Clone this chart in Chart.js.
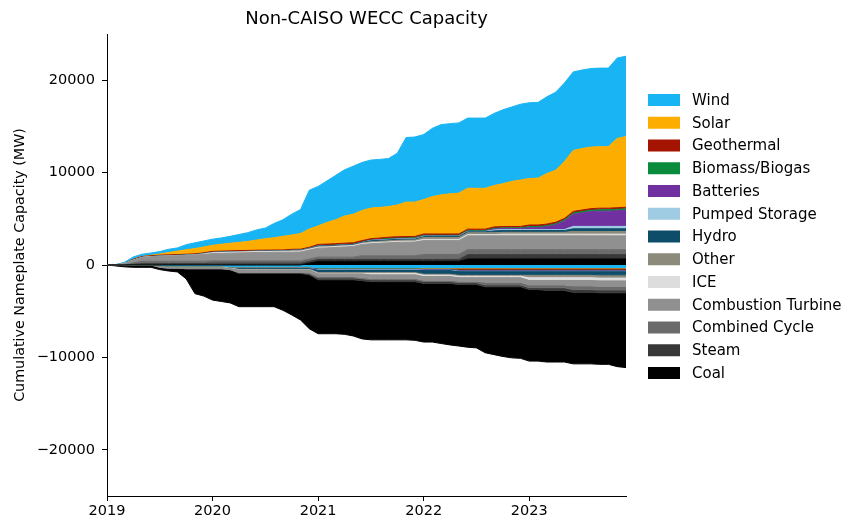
<!DOCTYPE html>
<html>
<head>
<meta charset="utf-8">
<script src="https://cdn.jsdelivr.net/npm/chart.js@4.4.0/dist/chart.umd.min.js"></script>
<style>
html, body { margin: 0; padding: 0; background: #fff; }
</style>
</head>
<body>
<canvas id="chart" width="843" height="522"></canvas>
<script>
// monthly, Jan 2019 .. Dec 2023
const months = [];
for (let i = 0; i < 60; i++) months.push(2019 + i / 12);

const xTicks = [2019, 2020, 2021, 2022, 2023];
const yTicks = [-20000, -10000, 0, 10000, 20000];

const techs = ['Coal', 'Steam', 'Combined Cycle', 'Combustion Turbine', 'ICE', 'Other', 'Hydro',
    'Pumped Storage', 'Batteries', 'Biomass/Biogas', 'Geothermal', 'Solar', 'Wind'];
const colors = ['#000000', '#383838', '#6b6b6b', '#909090', '#dddddd', '#8c8a7b', '#0d4d6a',
    '#9fcbe3', '#7030a0', '#0a8a3b', '#a51400', '#fdad00', '#18b4f4'];

///////////////////////////////// cumulative additions (MW) /////////////////////////////////
const coalAdd = [
    0,0,0,0,0,0,0,0,0,0,0,0,
    0,0,0,0,0,0,0,0,0,0,0,200,
    400,400,400,400,400,400,400,400,400,400,400,400,
    400,400,400,400,400,650,650,650,650,650,650,650,
    650,650,650,650,650,650,650,650,650,650,650,650];
const steamAdd = [
    0,0,0,80,150,150,150,150,150,150,150,150,
    200,200,200,200,200,200,200,200,200,200,200,200,
    200,200,200,200,200,200,200,200,200,200,200,200,
    200,200,200,200,200,470,470,470,470,470,470,470,
    470,470,470,470,470,470,470,470,470,470,470,470];
const ccAdd = [
    0,0,0,150,250,250,250,250,250,250,250,250,
    250,250,250,250,250,250,250,250,250,250,250,250,
    250,250,250,250,250,400,400,400,400,400,400,400,
    540,540,540,540,540,540,540,540,540,540,540,540,
    540,540,540,540,540,540,540,540,540,540,540,540];
const ctAdd = [
    0,30,150,300,420,500,540,570,600,640,680,740,
    780,800,830,860,880,900,910,920,930,940,950,960,
    970,1000,1050,1100,1150,1230,1300,1350,1400,1450,1470,1480,
    1500,1500,1500,1500,1500,1500,1500,1500,1500,1500,1500,1500,
    1500,1500,1500,1500,1500,1500,1500,1500,1500,1500,1500,1500];
const iceAdd = [
    0,0,0,0,0,0,0,0,0,0,0,50,
    100,100,100,100,100,100,100,100,100,100,100,100,
    100,100,100,100,100,100,100,100,100,100,100,100,
    130,130,130,130,130,130,130,130,130,180,180,180,
    180,180,180,180,180,180,180,180,180,180,180,180];
const otherAdd = [
    0,0,0,0,0,0,0,0,0,0,0,0,
    0,0,0,0,0,0,0,0,0,60,60,60,
    60,60,60,60,60,60,120,120,120,120,120,120,
    200,200,200,200,200,200,200,200,200,200,200,200,
    200,200,200,200,200,290,290,290,290,290,290,290];
const hydroAdd = [
    0,0,0,0,0,0,30,30,30,30,30,30,
    30,30,30,30,30,30,30,30,30,30,30,30,
    60,60,60,60,60,60,100,100,100,100,100,100,
    100,100,100,100,100,100,100,100,200,200,200,200,
    200,200,200,200,200,290,290,290,290,290,290,290];
const pumpedAdd = [
    0,0,0,0,0,0,0,0,0,0,0,0,
    0,0,0,0,0,0,0,0,0,0,0,0,
    0,0,0,0,0,0,40,40,40,40,40,40,
    40,40,40,40,40,40,40,40,100,100,100,100,
    100,100,100,100,100,260,260,260,260,260,260,260];
const battAdd = [
    0,0,0,0,0,0,0,0,0,0,0,0,
    0,0,0,0,0,0,0,0,0,0,0,0,
    0,0,0,0,0,0,0,20,20,20,20,20,
    20,20,20,20,20,20,20,20,100,100,100,100,
    200,200,300,500,900,1300,1450,1600,1650,1650,1700,1750];
const bioAdd = [
    0,0,0,20,20,20,20,20,20,20,20,20,
    20,20,20,20,20,20,20,20,20,20,20,20,
    40,40,40,40,40,40,40,40,80,80,80,80,
    80,80,80,80,80,80,80,80,80,80,80,80,
    120,120,120,120,120,150,150,150,150,150,150,150];
const geoAdd = [
    0,0,0,80,80,80,80,80,80,80,80,80,
    100,100,100,100,100,100,100,100,100,100,100,100,
    150,150,150,150,150,150,150,150,150,150,150,150,
    150,150,150,150,150,150,150,150,150,150,150,150,
    170,170,170,170,170,170,170,170,170,170,170,170];
const solarAdd = [
    0,0,0,0,0,50,120,250,370,480,570,630,
    650,750,820,890,970,1100,1240,1330,1470,1550,1690,1980,
    2000,2340,2590,2940,3090,3260,3310,3310,3310,3440,3720,3720,
    3720,4040,4240,4340,4420,4420,4420,4420,4480,4630,4880,5030,
    5030,5070,5470,5620,6170,6600,6650,6660,6660,6660,7500,7650];
const windAdd = [
    0,20,150,250,250,250,260,350,350,550,620,650,
    670,680,750,850,950,1100,1150,1550,1800,2250,2600,4200,
    4270,4500,4800,5000,5200,5200,5200,5200,5200,5600,7000,7040,
    7040,7400,7600,7600,7600,7600,7600,7600,7800,8000,8050,8200,
    8200,8200,8300,8450,8500,8500,8500,8500,8500,8500,8700,8700];

///////////////////////////////// cumulative retirements (MW) /////////////////////////////////
const coalRet = [
    0,100,200,250,250,250,250,300,400,1100,2700,2960,
    3400,3550,3600,3600,3600,3600,3600,3600,3990,4490,5040,5840,
    5840,5840,5840,5900,6080,6300,6300,6300,6300,6300,6300,6350,
    6350,6350,6510,6660,6660,6790,6860,7140,7340,7540,7690,7740,
    7740,7740,7740,7740,7740,7740,7740,7740,7740,7740,7990,8090];
const steamRet = [
    0,0,0,0,0,0,0,0,0,0,0,0,
    0,0,0,100,100,100,100,100,100,100,100,100,
    200,200,200,200,200,200,200,200,200,200,200,200,
    200,200,200,200,200,200,200,200,200,200,200,200,
    200,200,300,300,300,300,300,300,300,300,300,300];
const ccRet = [
    0,0,0,0,0,0,0,0,0,0,0,0,
    0,0,0,0,0,0,0,0,0,0,0,150,
    150,150,150,150,150,150,150,150,150,150,150,150,
    150,150,150,150,150,150,150,300,300,300,300,300,
    300,300,300,300,300,400,400,400,400,400,400,400];
const ctRet = [
    0,0,0,0,0,0,250,250,250,250,250,250,
    250,250,250,400,400,400,400,400,400,400,400,400,
    400,400,400,400,400,500,500,500,500,500,500,500,
    500,500,500,500,500,500,500,600,600,600,600,600,
    600,600,600,600,600,700,700,700,700,700,700,700];
const iceRet = [
    0,0,0,0,0,0,0,0,0,50,50,50,
    50,50,50,50,50,50,50,50,50,50,50,50,
    50,50,50,50,50,50,150,150,150,150,150,150,
    150,150,150,150,150,150,150,150,150,150,150,150,
    300,300,300,300,300,300,300,300,300,300,300,300];
const otherRet = [
    0,0,0,0,0,0,0,0,0,0,0,0,
    0,0,0,0,0,0,0,0,0,0,0,0,
    100,100,100,100,100,100,100,100,100,100,100,100,
    100,100,100,100,100,100,100,100,100,100,100,100,
    250,250,250,250,250,250,250,250,250,250,250,250];
const hydroRet = [
    0,0,0,0,0,0,0,0,0,0,0,0,
    0,0,0,100,100,100,100,100,100,100,100,100,
    250,250,250,250,250,250,250,250,250,250,250,250,
    400,400,400,400,400,400,400,400,400,400,400,400,
    400,400,400,400,400,400,400,400,450,450,450,450];
const pumpedRet = [
    0,0,0,0,0,0,0,0,0,0,0,0,
    0,0,0,0,0,0,0,0,0,0,0,0,
    40,40,40,40,40,40,40,40,40,40,40,40,
    40,40,40,40,40,40,40,40,40,40,40,40,
    40,40,40,40,40,40,40,40,40,40,40,40];
const battRet = [
    0,0,0,0,0,0,0,0,0,0,0,0,
    0,0,0,60,60,60,60,60,60,60,60,60,
    60,60,60,60,60,60,60,60,60,60,60,60,
    60,60,60,60,60,60,60,60,60,60,60,60,
    60,60,60,60,60,60,60,60,60,60,60,60];
const bioRet = [
    0,0,0,0,0,0,0,0,0,0,0,0,
    0,0,0,0,0,0,0,0,0,0,0,0,
    60,60,60,60,60,60,60,60,60,60,60,60,
    60,60,60,60,60,60,60,60,60,60,60,60,
    60,60,60,60,60,60,60,60,60,60,60,60];
const geoRet = [
    0,0,0,0,0,0,0,0,0,0,0,0,
    0,0,0,0,0,0,0,0,0,0,0,0,
    0,0,0,0,0,0,0,0,0,0,0,0,
    0,0,0,0,120,120,120,120,120,120,120,120,
    120,120,120,120,120,120,120,120,120,120,120,120];
const solarRet = [
    0,0,0,0,0,0,0,0,0,0,0,0,
    0,0,0,0,0,0,0,0,0,0,0,0,
    0,0,0,0,0,0,0,0,0,0,0,0,
    40,40,40,40,40,40,40,40,40,40,40,40,
    40,40,40,40,40,40,40,40,40,40,40,40];
const windRet = [
    0,0,0,0,0,0,0,100,100,100,100,100,
    100,100,200,200,200,200,200,200,200,200,200,200,
    290,290,290,290,290,290,290,290,290,290,290,290,
    290,290,290,290,290,290,290,290,290,290,290,290,
    290,290,290,290,290,290,290,290,290,290,290,290];

const additions = [coalAdd, steamAdd, ccAdd, ctAdd, iceAdd, otherAdd, hydroAdd,
    pumpedAdd, battAdd, bioAdd, geoAdd, solarAdd, windAdd];
const retirements = [coalRet, steamRet, ccRet, ctRet, iceRet, otherRet, hydroRet,
    pumpedRet, battRet, bioRet, geoRet, solarRet, windRet];

const FONT = 'DejaVu Sans';

// additions stack up from zero starting with coal, retirements stack down starting with wind
const datasets = [];
techs.forEach((t, i) => {
    datasets.push({
        label: t,
        data: additions[i],
        stack: 'add',
        fill: i === 0 ? 'origin' : '-1',
        backgroundColor: colors[i],
        borderColor: colors[i],
    });
});
for (let i = techs.length - 1; i >= 0; i--) {
    datasets.push({
        label: techs[i] + ' retired',
        data: retirements[i].map(v => -v),
        stack: 'ret',
        fill: i === techs.length - 1 ? 'origin' : '-1',
        backgroundColor: colors[i],
        borderColor: colors[i],
    });
}

// title over the plot area and the key on the right
const titleAndKey = {
    id: 'titleAndKey',
    afterDraw: function(chart) {
        const ctx = chart.ctx, area = chart.chartArea;
        ctx.save();
        ctx.fillStyle = '#000';
        ctx.textBaseline = 'middle';
        ctx.textAlign = 'center';
        ctx.font = '18px "' + FONT + '"';
        ctx.fillText('Non-CAISO WECC Capacity', (area.left + area.right) / 2, 19);

        ctx.textAlign = 'left';
        ctx.font = '15px "' + FONT + '"';
        for (let k = 0; k < techs.length; k++) {
            const i = techs.length - 1 - k;
            const y = 100 + k * 22.75;
            ctx.fillStyle = colors[i];
            ctx.fillRect(648, y - 6, 32, 12);
            ctx.fillStyle = '#000';
            ctx.fillText(techs[i], 692, y + 1);
        }
        ctx.restore();
    }
};

new Chart(document.getElementById('chart'), {
    type: 'line',
    data: { labels: months, datasets: datasets },
    options: {
        responsive: false,
        animation: false,
        layout: { padding: { left: 0, right: 217, top: 34, bottom: 0 } },
        elements: {
            point: { radius: 0 },
            line: { tension: 0, borderWidth: 1 }
        },
        plugins: {
            legend: { display: false },
            title: { display: false },
            tooltip: { enabled: false }
        },
        scales: {
            x: {
                type: 'linear',
                min: 2019,
                max: months[months.length - 1],
                grid: { drawOnChartArea: false, color: '#000', tickLength: 5 },
                border: { color: '#000', width: 1 },
                afterBuildTicks: (scale) => { scale.ticks = xTicks.map(v => ({ value: v })); },
                ticks: {
                    maxRotation: 0,
                    padding: 2,
                    color: '#000',
                    font: { family: FONT, size: 14.5 },
                    callback: (value) => String(value)
                },
                afterFit: (scale) => { scale.height = 26; }
            },
            y: {
                stacked: true,
                min: -25000,
                max: 25000,
                grid: { drawOnChartArea: false, color: '#000', tickLength: 5 },
                border: { color: '#000', width: 1 },
                afterBuildTicks: (scale) => { scale.ticks = yTicks.map(v => ({ value: v })); },
                ticks: {
                    padding: 7,
                    color: '#000',
                    font: { family: FONT, size: 14.5 },
                    callback: (value) => value < 0 ? '\u2212' + Math.abs(value) : String(value)
                },
                title: {
                    display: true,
                    text: 'Cumulative Nameplate Capacity (MW)',
                    color: '#000',
                    font: { family: FONT, size: 14.3 },
                    padding: { top: 12, bottom: 0 }
                },
                afterFit: (scale) => { scale.width = 107; }
            }
        }
    },
    plugins: [titleAndKey]
});
</script>
</body>
</html>
